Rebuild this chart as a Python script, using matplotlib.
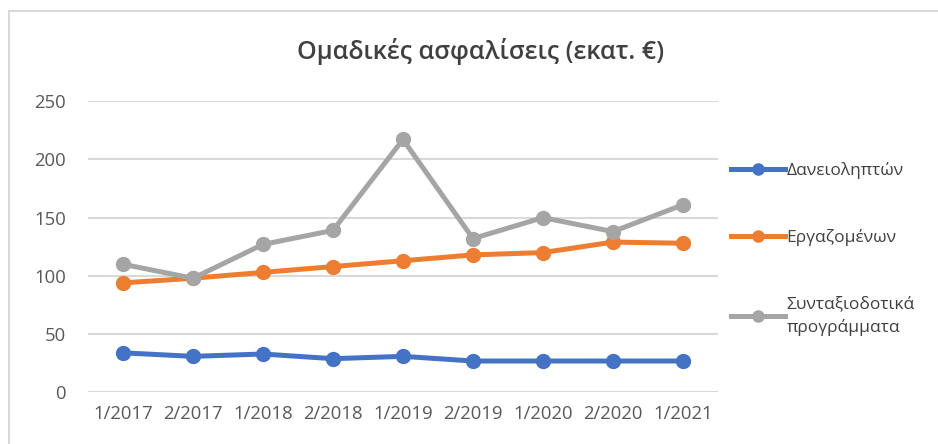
import matplotlib
matplotlib.use('Agg')
import matplotlib.pyplot as plt
from matplotlib.patches import Rectangle

plt.rcParams['font.family'] = ['Open Sans', 'DejaVu Sans']

periodoi = ['1/2017', '2/2017', '1/2018', '2/2018', '1/2019', '2/2019', '1/2020', '2/2020', '1/2021']
daneioliptes = [34, 31, 33, 29, 31, 27, 27, 27, 27]
ergazomenoi = [94, 98, 103, 108, 113, 118, 120, 129, 128]
syntaxiodotika = [110, 98, 127, 139, 217, 132, 150, 138, 161]

seires = [
    ('Δανειοληπτών', daneioliptes, '#4472C4'),
    ('Εργαζομένων', ergazomenoi, '#ED7D31'),
    ('Συνταξιοδοτικά\nπρογράμματα', syntaxiodotika, '#A5A5A5'),
]

fig = plt.figure(figsize=(9.38, 4.44), dpi=100)
ax = fig.add_axes([0.0938, 0.116, 0.6716, 0.6565])

x = range(len(periodoi))
for onoma, timi, xroma in seires:
    ax.plot(x, timi, '-o', color=xroma, lw=3.6, ms=10, label=onoma, zorder=3)

ax.set_xlim(-0.5, len(periodoi) - 0.5)
ax.set_ylim(0, 250)
ax.set_yticks(range(0, 251, 50))
ax.set_xticks(list(x))
ax.set_xticklabels(periodoi)
ax.grid(axis='y', color='#D9D9D9', lw=1.5)
ax.set_axisbelow(True)
for s in ax.spines.values():
    s.set_visible(False)
ax.tick_params(length=0, labelsize=13.3, colors='#595959')
ax.tick_params(axis='y', pad=16)
ax.tick_params(axis='x', pad=9)

fig.text(0.512, 0.885, 'Ομαδικές ασφαλίσεις (εκατ. €)', ha='center', va='center',
         fontsize=18, fontweight='semibold', color='#404040')

leg = ax.legend(loc='upper left', bbox_to_anchor=(1.01, 0.815), frameon=False,
                fontsize=12.5, labelcolor='#404040', handlelength=3.1, handletextpad=0.1,
                labelspacing=2.9, borderaxespad=0, markerscale=0.8)
for t in leg.get_texts():
    t.set_linespacing(1.5)

# πλαίσιο γραφήματος
fig.add_artist(Rectangle((9 / 938, -0.1), 1.2, 0.1 + 1 - 11 / 444, transform=fig.transFigure,
                         fill=False, ec='#D9D9D9', lw=1.5, clip_on=False))

fig.savefig('out.png', dpi=100, facecolor='white')
